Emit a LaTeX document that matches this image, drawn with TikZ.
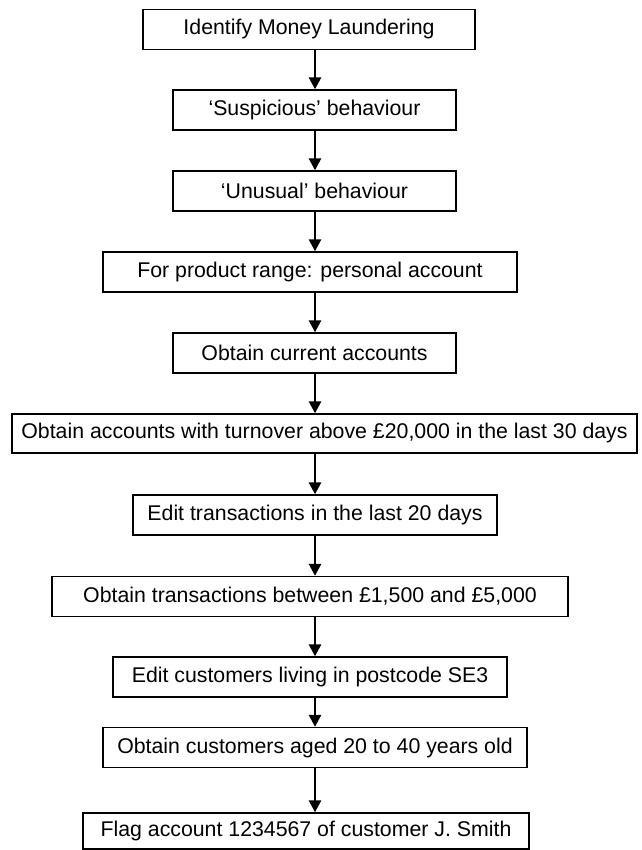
\documentclass[tikz,border=0pt]{standalone}
\usepackage{fontspec}
\setmainfont{Liberation Sans}
\usetikzlibrary{arrows.meta}
\begin{document}
\begin{tikzpicture}[x=1pt,y=1pt,
  box/.style={draw=black, line width=1.3pt, inner sep=0pt, minimum height=40pt,
    font=\fontsize{21.3}{24}\selectfont, text=black, fill=white},
  arr/.style={line width=2.6pt, -{Triangle[width=12pt,length=12pt]}}]
\useasboundingbox (0,0) rectangle (641,850);
\fill[white] (0,0) rectangle (641,850);
\coordinate (ax) at (315,0);
% y_tikz = 850 - y_px
\node[box, minimum width=332pt] (b1) at (309,820.5) {Identify Money Laundering};
\node[box, minimum width=283pt] (b2) at (314.5,740) {‘Suspicious’ behaviour};
\node[box, minimum width=283pt] (b3) at (314.5,659) {‘Unusual’ behaviour};
\node[box, minimum width=414pt] (b4) at (310,578) {For product range: personal account};
\node[box, minimum width=283pt] (b5) at (314.5,497) {Obtain current accounts};
\node[box, minimum width=625pt, minimum height=39pt] (b6) at (324.5,416.5) {Obtain accounts with turnover above £20,000 in the last 30 days};
\node[box, minimum width=364pt] (b7) at (315,335) {Edit transactions in the last 20 days};
\node[box, minimum width=516pt] (b8) at (310,253.5) {Obtain transactions between £1,500 and £5,000};
\node[box, minimum width=394pt] (b9) at (310,173) {Edit customers living in postcode SE3};
\node[box, minimum width=424pt] (b10) at (315,102.5) {Obtain customers aged 20 to 40 years old};
\node[box, minimum width=446pt, minimum height=36pt] (b11) at (306,19) {Flag account 1234567 of customer J. Smith};
\foreach \a/\b in {b1/b2,b2/b3,b3/b4,b4/b5,b5/b6,b6/b7,b7/b8,b8/b9,b9/b10,b10/b11}
  \draw[arr] (\a.south -| ax) -- (\b.north -| ax);
\end{tikzpicture}
\end{document}
